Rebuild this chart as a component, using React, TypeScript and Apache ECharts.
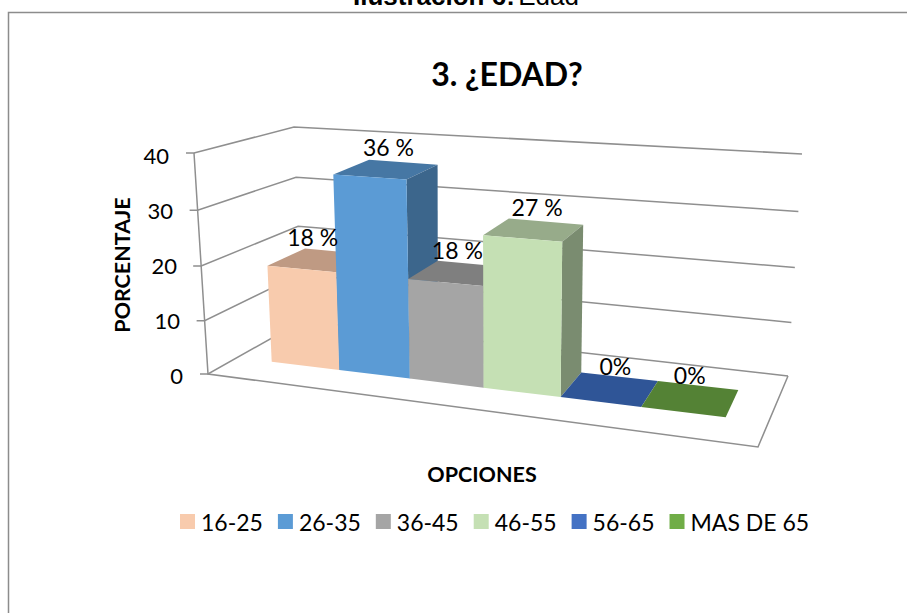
import React, { useEffect, useRef } from "react";
import * as echarts from "echarts";

const categories = ["16-25", "26-35", "36-45", "46-55", "56-65", "MAS DE 65"];
const percentValues = [18, 36, 18, 27, 0, 0];
const pointLabels = ["18 %", "36 %", "18 %", "27 %", "0%", "0%"];
const axisTicks = [0, 10, 20, 30, 40];
const headerBold = "Ilustración 6:";
const headerPlain = "Edad";
const chartTitle = "3. ¿EDAD?";
const xAxisTitle = "OPCIONES";
const yAxisTitle = "PORCENTAJE";

const FONT = "Lato";
const GRID = { left: 183, top: 155, width: 598, height: 220 };
const legendColors = ["#f8cbad", "#5b9bd5", "#a5a5a5", "#c5e0b4", "#4472c4", "#70ad47"];
const topColors = ["#bf9a83", "#4677a4", "#7f7f7f", "#97ab8a", "#2f5597", "#548235"];
const sideColors = ["#a58670", "#3c668c", "#6e6e6e", "#7a8c70", "#28487f", "#47702d"];
const labelNudge = [-6, 3, -1, 4, 6, 0];
// the tick labels follow the slanted front edge of the wall
const tickLabelInset: Record<string, number> = { "0": 0, "10": 3, "20": 6, "30": 10, "40": 14 };

type P = [number, number];
const lerp = (a: P, b: P, t: number): P => [a[0] + (b[0] - a[0]) * t, a[1] + (b[1] - a[1]) * t];

// perspective along the category direction
const FORESHORTEN = 0.143;
const alongX = (p: number) => p / (1 + FORESHORTEN * (1 - p));

// base of the bar block: front and back edges of the floor strip
const BASE_FL: P = [271.7, 361.7];
const BASE_FR: P = [725.7, 417.3];
const BASE_BL: P = [306.5, 342];
const BASE_BR: P = [738.3, 390];
// on-screen direction of "up" relative to the y axis scale, at the same four corners
const UP_FL: P = [-0.043, 0.969];
const UP_FR: P = [0.042, 1.091];
const UP_BL: P = [-0.015, 0.945];
const UP_BR: P = [0.029, 1.024];

function project(p: number, back: number, pixelsUp: number): P {
  const s = alongX(p);
  const base = lerp(lerp(BASE_FL, BASE_FR, s), lerp(BASE_BL, BASE_BR, s), back);
  const up = lerp(lerp(UP_FL, UP_FR, s), lerp(UP_BL, UP_BR, s), back);
  return [base[0] + up[0] * pixelsUp, base[1] - up[1] * pixelsUp];
}

// the walls of the box
const WALL_FL0: P = [208, 374];
const WALL_FL1: P = [194, 153];
const WALL_BL0: P = [302, 321];
const WALL_BL1: P = [294, 127];
const WALL_BR0: P = [788, 376];
const WALL_BR1: P = [802, 154];
const FLOOR_FR: P = [758, 447];
const WALL_BEND = 0.047;
const bend = (h: number) => h / (1 + WALL_BEND * (1 - h));
const LINE = { stroke: "#8f8f8f", lineWidth: 1.5, fill: "none" };

function bandOf(api: any): number {
  const size = api.size([1, 0])[0];
  const centre = api.coord([api.value(0), 0])[0];
  return (centre - size / 2 - GRID.left) / GRID.width;
}

function renderBar(params: any, api: any) {
  const i = params.seriesIndex - 1;
  const left = bandOf(api);
  const right = left + api.size([1, 0])[0] / GRID.width;
  const h = api.size([0, api.value(1)])[1];
  const fbl = project(left, 0, 0);
  const fbr = project(right, 0, 0);
  const bbr = project(right, 1, 0);
  const ftl = project(left, 0, h);
  const ftr = project(right, 0, h);
  const btl = project(left, 1, h);
  const btr = project(right, 1, h);
  const poly = (points: P[], fill: string) => ({ type: "polygon", shape: { points }, style: { fill } });
  const children: any[] = [poly([ftl, ftr, btr, btl], topColors[i])];
  if (h > 0) {
    children.push(poly([fbr, bbr, btr, ftr], sideColors[i]));
    children.push(poly([fbl, fbr, ftr, ftl], legendColors[i]));
  }
  return { type: "group", children };
}

function renderLevel(_params: any, api: any) {
  const h = bend(api.value(1) / axisTicks[axisTicks.length - 1]);
  const front = lerp(WALL_FL0, WALL_FL1, h);
  const back = lerp(WALL_BL0, WALL_BL1, h);
  const far = lerp(WALL_BR0, WALL_BR1, h);
  return {
    type: "polyline",
    shape: { points: [[front[0] - 8, front[1]], front, back, far] },
    style: LINE,
  };
}

function renderBox() {
  return {
    type: "group",
    children: [
      { type: "polyline", shape: { points: [WALL_FL1, WALL_FL0, FLOOR_FR, WALL_BR0] }, style: LINE },
    ],
  };
}

function renderLabel(params: any, api: any) {
  const i = params.dataIndex;
  const left = bandOf(api);
  const right = left + api.size([1, 0])[0] / GRID.width;
  const h = api.size([0, api.value(1)])[1];
  const a = project(left, 0, h);
  const b = project(right, 1, h);
  return {
    type: "text",
    style: {
      x: (a[0] + b[0]) / 2 + labelNudge[i],
      y: (a[1] + b[1]) / 2 - 23,
      text: pointLabels[i],
      fill: "#000",
      font: `23px ${FONT}`,
      textAlign: "center",
      textVerticalAlign: "middle",
    },
  };
}

export default function App() {
  const ref = useRef<HTMLDivElement>(null);
  useEffect(() => {
    const chart = echarts.init(ref.current!, undefined, { renderer: "svg" });
    const tickRich: Record<string, any> = {};
    axisTicks.forEach((v) => {
      tickRich[`t${v}`] = {
        fontFamily: FONT,
        fontSize: 22,
        color: "#000",
        padding: [0, tickLabelInset[String(v)], 0, 0],
      };
    });
    chart.setOption({
      animation: false,
      backgroundColor: "#fff",
      title: [
        {
          text: chartTitle,
          left: 502,
          top: 52,
          textAlign: "center",
          textStyle: { fontFamily: FONT, fontWeight: "bold", fontSize: 32, color: "#000" },
        },
      ],
      grid: { ...GRID, containLabel: false },
      xAxis: {
        type: "category",
        data: categories,
        name: xAxisTitle,
        nameLocation: "middle",
        nameGap: 88,
        nameTextStyle: { fontFamily: FONT, fontWeight: "bold", fontSize: 21.5, color: "#000" },
        axisLine: { show: false },
        axisTick: { show: false },
        axisLabel: { show: false },
      },
      yAxis: {
        type: "value",
        min: 0,
        max: 40,
        interval: 10,
        name: yAxisTitle,
        nameLocation: "middle",
        nameGap: 48,
        nameTextStyle: { fontFamily: FONT, fontWeight: "bold", fontSize: 21.5, color: "#000" },
        axisLine: { show: false },
        axisTick: { show: false },
        splitLine: { show: false },
        axisLabel: {
          margin: 0,
          formatter: (v: number) => `{t${v}|${v}}`,
          rich: tickRich,
        },
      },
      legend: {
        data: categories,
        left: 175,
        top: 505,
        icon: "rect",
        itemWidth: 15,
        itemHeight: 15,
        itemGap: 15,
        textStyle: { fontFamily: FONT, fontSize: 23, color: "#000", padding: [0, 0, 0, 1] },
        selectedMode: false,
      },
      graphic: [
        {
          type: "polyline",
          shape: { points: [[8.5, 613], [8.5, 12.5], [907, 12.5]] },
          style: { stroke: "#8c8c8c", lineWidth: 1.5, fill: "none" },
        },
        {
          type: "text",
          x: 353,
          y: -17,
          style: {
            text: `{b|${headerBold}} {r|${headerPlain}}`,
            rich: {
              b: { font: 'bold 26px "Liberation Sans"', fill: "#000" },
              r: { font: '26px "Liberation Sans"', fill: "#000" },
            },
          },
        },
      ],
      series: [
        {
          name: "niveles",
          type: "custom",
          coordinateSystem: "cartesian2d",
          renderItem: renderLevel,
          data: axisTicks.map((v) => [0, v]),
          silent: true,
          clip: false,
          z: 1,
        },
        ...categories.map((name, i) => ({
          name,
          type: "custom",
          coordinateSystem: "cartesian2d",
          renderItem: renderBar,
          data: [[i, percentValues[i]]],
          itemStyle: { color: legendColors[i] },
          silent: true,
          clip: false,
          z: 3 + i,
        })),
        {
          name: "caja",
          type: "custom",
          coordinateSystem: "cartesian2d",
          renderItem: renderBox,
          data: [[0, 0]],
          silent: true,
          clip: false,
          z: 2,
        },
        {
          name: "etiquetas",
          type: "custom",
          coordinateSystem: "cartesian2d",
          renderItem: renderLabel,
          data: percentValues.map((v, i) => [i, v]),
          silent: true,
          clip: false,
          z: 20,
        },
      ],
    });
    return () => chart.dispose();
  }, []);
  return <div ref={ref} style={{ position: "fixed", left: 0, top: 0, width: 907, height: 613 }} />;
}
